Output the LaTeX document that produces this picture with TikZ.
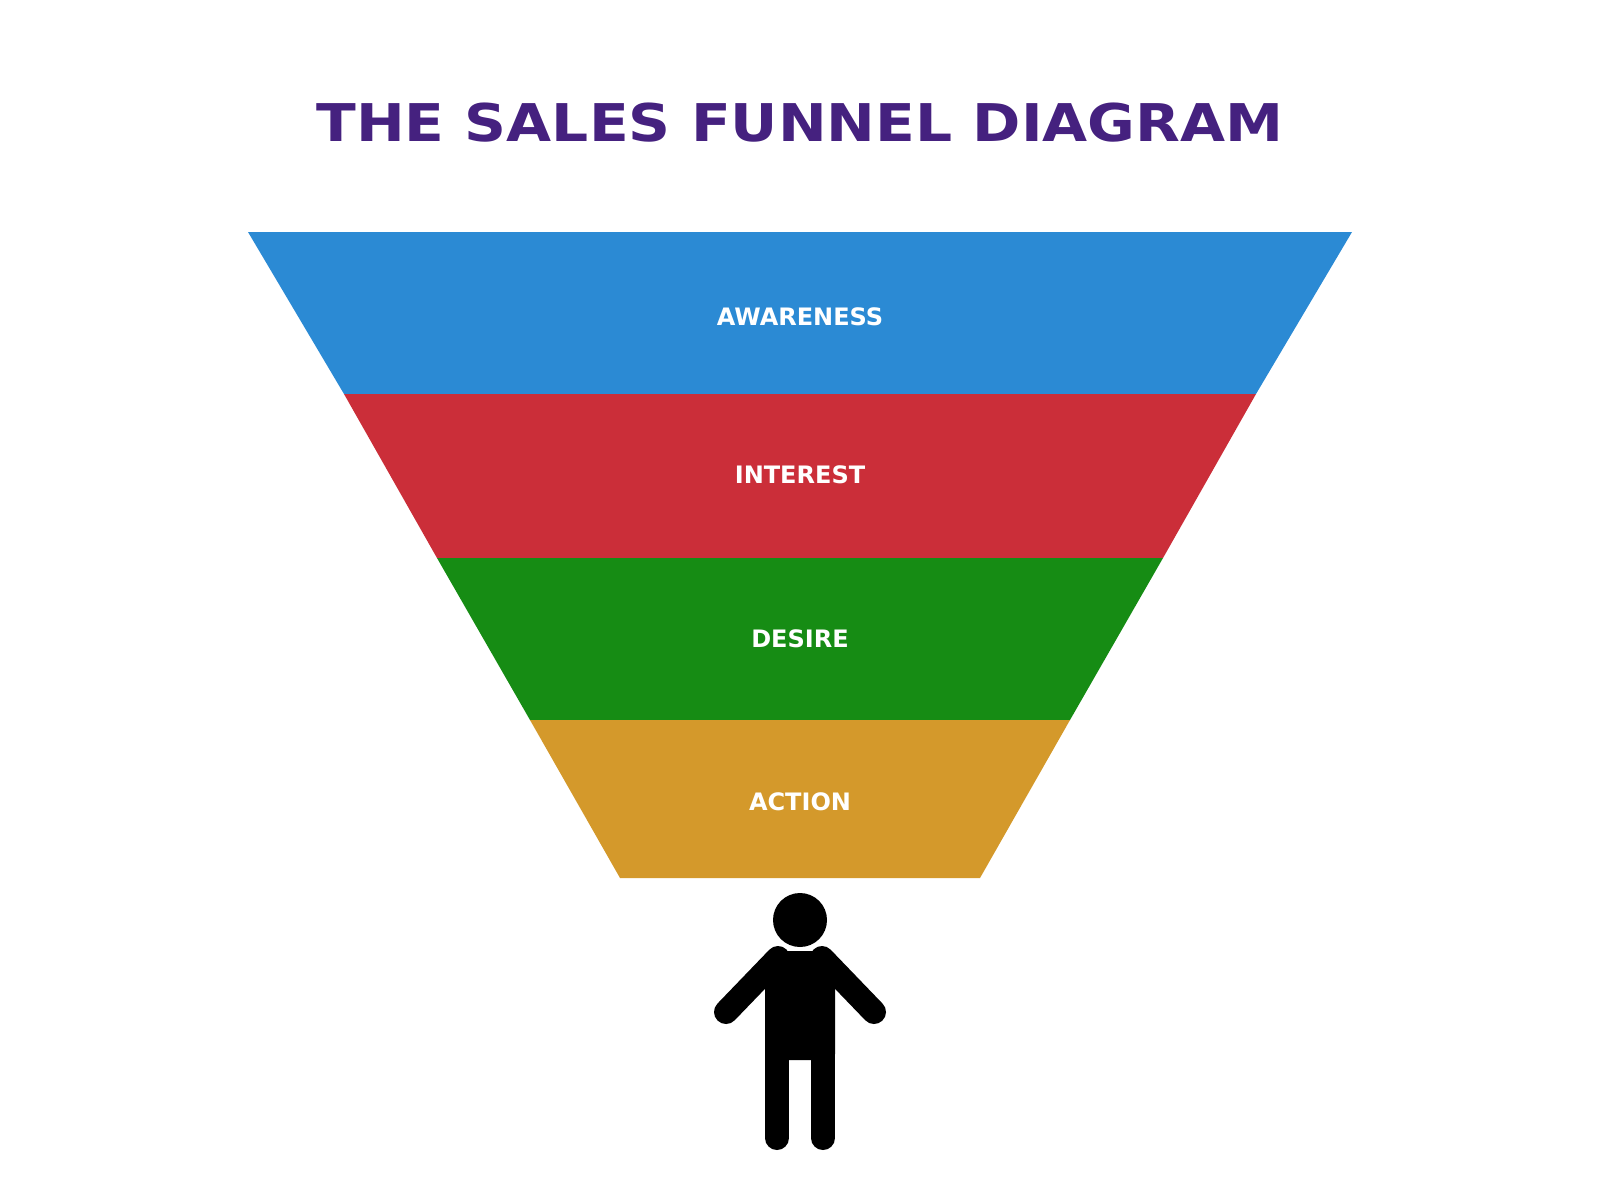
\documentclass[tikz,border=0pt]{standalone}
\usepackage{fontspec}
\setmainfont{DejaVu Sans}
\begin{document}
\begin{tikzpicture}[x=1pt,y=-1pt,
  lab/.style={text=white,font=\bfseries\fontsize{24}{24}\selectfont},
  limb/.style={line width=24pt,line cap=round,black}]
\useasboundingbox (0,0) rectangle (1600,1200);
\definecolor{cA}{HTML}{2B8AD4}\definecolor{cI}{HTML}{CB2E39}
\definecolor{cD}{HTML}{168C14}\definecolor{cC}{HTML}{D4992B}\definecolor{tt}{HTML}{45217F}
\node[text=tt,font=\bfseries\fontsize{52}{52}\selectfont] (title) at (800,123) {\scalebox{1.12}[1]{THE SALES FUNNEL DIAGRAM}};
\fill[cA] (248,232) -- (1352,232) -- (1256,394) -- (344,394) -- cycle;
\fill[cI] (344,394) -- (1256,394) -- (1163,558) -- (437,558) -- cycle;
\fill[cD] (437,558) -- (1163,558) -- (1070,720) -- (530,720) -- cycle;
\fill[cC] (530,720) -- (1070,720) -- (980,878) -- (620,878) -- cycle;
\node[lab] (a) at (800,317) {AWARENESS};
\node[lab] (i) at (800,475) {INTEREST};
\node[lab] (d) at (800,639) {DESIRE};
\node[lab] (c) at (800,802) {ACTION};
% person
\fill (800,920) circle (27);
\fill[rounded corners=6pt] (765,951) rectangle (835,1060);
\draw[limb] (778,958) -- (726,1012);
\draw[limb] (822,958) -- (874,1012);
\draw[limb] (777,1040) -- (777,1138);
\draw[limb] (823,1040) -- (823,1138);
\end{tikzpicture}
\end{document}
